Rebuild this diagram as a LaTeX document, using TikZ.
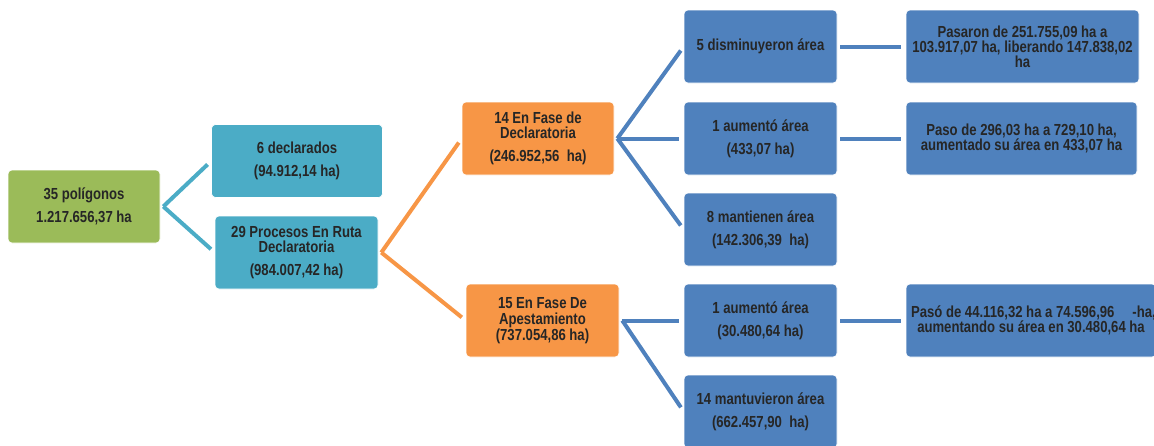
\documentclass[tikz,border=0pt]{standalone}
\usepackage{fontspec}
\setmainfont[FakeStretch=0.82]{Liberation Sans}
\definecolor{verde}{HTML}{9BBB59}
\definecolor{celeste}{HTML}{4BACC6}
\definecolor{naranja}{HTML}{F79646}
\definecolor{azul}{HTML}{4F81BD}
\newcommand{\cifra}[1]{\\[8pt](#1)}

\begin{document}
\begin{tikzpicture}[x=1pt,y=-1pt,
    caja/.style={rounded corners=4pt,draw=white,line width=.6pt,align=center,inner sep=2pt,
      font=\fontsize{16}{15}\selectfont\bfseries,text=black!85,minimum height=73pt,minimum width=153pt},
    rama/.style={line width=4pt,shorten >=5pt}]
    \useasboundingbox (0,0) rectangle (1154,445);
    % primer nivel
    \node[caja,fill=verde,minimum width=152pt] (raiz) at (84,206.5) {35 polígonos\\[8pt]1.217.656,37 ha};
    \node[caja,fill=celeste,minimum width=171pt] (decl) at (297,161) {6 declarados\cifra{94.912,14 ha}};
    \node[caja,fill=celeste,minimum width=163pt] (ruta) at (296.5,252.5) {29 Procesos En Ruta\\Declaratoria\cifra{984.007,42 ha}};
    \node[caja,fill=naranja,minimum width=152pt] (f14) at (538,138.5) {14 En Fase de\\Declaratoria\cifra{246.952,56\ \ ha}};
    \node[caja,fill=naranja] (f15) at (542.5,320.5) {15 En Fase De\\[1pt]Apestamiento\\[1pt](737.054,86 ha)};
    % columna de cambios
    \node[caja,fill=azul] (c1) at (760.5,46.5) {5 disminuyeron área};
    \node[caja,fill=azul] (c2) at (760.5,138.5) {1 aumentó área\cifra{433,07 ha}};
    \node[caja,fill=azul] (c3) at (760.5,229.5) {8 mantienen área\cifra{142.306,39\ \ ha}};
    \node[caja,fill=azul] (c4) at (760.5,320.5) {1 aumentó área\cifra{30.480,64 ha}};
    \node[caja,fill=azul] (c5) at (760.5,411.5) {14 mantuvieron área\cifra{662.457,90\ \ ha}};
    % detalle
    \node[caja,fill=azul,minimum width=233pt] (d1) at (1022.5,46.5) {Pasaron de 251.755,09 ha a\\103.917,07 ha, liberando 147.838,02\\ha};
    \node[caja,fill=azul,minimum width=231pt] (d2) at (1021.5,138.5) {Paso de 296,03 ha a 729,10 ha,\\aumentado su área en 433,07 ha};
    \node[caja,fill=azul,minimum width=250pt] (d3) at (1031,320.5) {\makebox[240pt][l]{Pasó de 44.116,32 ha a 74.596,96\hspace{18pt}-ha,}\\aumentando su área en 30.480,64 ha};
    \foreach \a/\b/\c in {raiz/decl/celeste,raiz/ruta/celeste,ruta/f14/naranja,ruta/f15/naranja,
        f14/c1/azul,f14/c2/azul,f14/c3/azul,f15/c4/azul,f15/c5/azul,c1/d1/azul,c2/d2/azul,c4/d3/azul}
      \draw[rama,\c] ([xshift=3pt]\a.east) -- (\b.west);
\end{tikzpicture}
\end{document}
